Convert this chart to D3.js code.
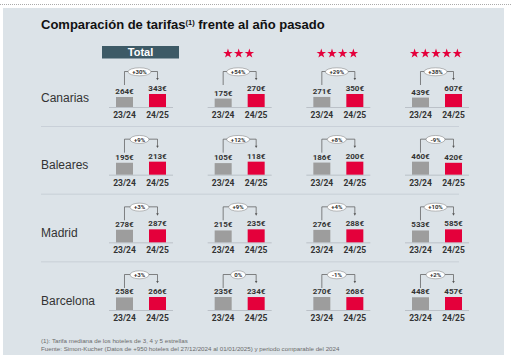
<!DOCTYPE html>
<html>
<head>
<meta charset="utf-8">
<script src="https://cdn.jsdelivr.net/npm/d3@7"></script>
<style>
  body { margin: 0; background: #fff; }
  svg { display: block; }
</style>
</head>
<body>
<div id="chart"></div>
<script>
// tarifas medianas por región y categoría
var regions = ["Canarias", "Baleares", "Madrid", "Barcelona"];
var categories = ["Total", "3", "4", "5"];
var periods = ["23/24", "24/25"];

// 23/24 values, one row per region
var prev = [
  [264, 175, 271, 439],
  [195, 105, 186, 460],
  [278, 215, 276, 533],
  [258, 235, 270, 448]
];
// 24/25 values
var curr = [
  [343, 270, 350, 607],
  [213, 118, 200, 420],
  [287, 235, 288, 585],
  [266, 234, 268, 457]
];
var changes = [
  ["+30%", "+54%", "+29%", "+38%"],
  ["+9%", "+12%", "+8%", "-9%"],
  ["+3%", "+9%", "+4%", "+10%"],
  ["+3%", "0%", "-1%", "+2%"]
];
var starCounts = [0, 3, 4, 5];

var width = 512, height = 361;
var red = "#e4003b", grey = "#9d9d9d", ink = "#333";
var numFont = "Roboto, 'Liberation Sans', sans-serif";
var txtFont = "'Liberation Sans', Arial, sans-serif";

var svg = d3.select("#chart").append("svg")
  .attr("width", width)
  .attr("height", height);

// dotted top rule and panel
svg.append("line")
  .attr("x1", 0).attr("x2", width)
  .attr("y1", 4.5).attr("y2", 4.5)
  .attr("stroke", "#aaa")
  .attr("stroke-dasharray", "1,1");

svg.append("rect")
  .attr("x", 3).attr("y", 8)
  .attr("width", 501).attr("height", 347)
  .attr("fill", "#dce3e8");

// title
var title = svg.append("text")
  .attr("x", 41).attr("y", 29)
  .attr("font-family", txtFont)
  .attr("font-size", "13px")
  .attr("font-weight", "bold")
  .attr("fill", "#111");
title.append("tspan").text("Comparación de tarifas");
title.append("tspan").attr("font-size", "7.5px").attr("dy", -4.5).text("(1)");
title.append("tspan").attr("dy", 4.5).text(" frente al año pasado");

// scales
var x = d3.scalePoint().domain(categories).range([141, 437]);
var y = d3.scalePoint().domain(regions).range([107, 310]);
var xIn = d3.scaleBand().domain(periods).range([-25, 25]).paddingInner(0.485);

// column headers
var totalX = x("Total");
svg.append("rect")
  .attr("x", totalX - 39).attr("y", 46)
  .attr("width", 77).attr("height", 12.5)
  .attr("fill", "#3d5a66");
svg.append("text")
  .attr("x", totalX - 0.5).attr("y", 56.3)
  .attr("text-anchor", "middle")
  .attr("font-family", txtFont)
  .attr("font-size", "11px")
  .attr("font-weight", "bold")
  .attr("fill", "#fff")
  .text("Total");

var star = d3.symbol(d3.symbolStar).size(28);
categories.forEach(function (c, ci) {
  var n = starCounts[ci];
  if (!n) return;
  d3.range(n).forEach(function (k) {
    svg.append("path")
      .attr("d", star)
      .attr("fill", red)
      .attr("transform", "translate(" + (x(c) - 1 + (k - (n - 1) / 2) * 10.7) + ",53.5)");
  });
});

// separators
regions.slice(0, -1).forEach(function (r) {
  svg.append("line")
    .attr("x1", 41).attr("x2", 459)
    .attr("y1", y(r) + 19.5).attr("y2", y(r) + 19.5)
    .attr("stroke", "#c4ccd3")
    .attr("stroke-width", 0.8);
});

// row labels
svg.selectAll(".rowlabel").data(regions).enter()
  .append("text")
    .attr("class", "rowlabel")
    .attr("x", 41)
    .attr("y", function (d) { return y(d) - 5.5; })
    .attr("font-family", txtFont)
    .attr("font-size", "12px")
    .attr("fill", ink)
    .text(function (d) { return d; });

// cells
regions.forEach(function (r, ri) {
  categories.forEach(function (c, ci) {
    var cx = x(c), base = y(r);
    var vals = [prev[ri][ci], curr[ri][ci]];
    var h = d3.scaleLinear().domain([0, d3.max(vals)]).range([0, 13]);
    var g = svg.append("g").attr("transform", "translate(" + cx + "," + base + ")");

    g.append("line")
      .attr("x1", -32).attr("x2", 32)
      .attr("y1", 0.5).attr("y2", 0.5)
      .attr("stroke", "#b3b9bf")
      .attr("stroke-width", 0.8);

    g.selectAll(".bar").data(vals).enter()
      .append("rect")
        .attr("class", "bar")
        .attr("x", function (d, i) { return xIn(periods[i]); })
        .attr("y", function (d) { return -h(d); })
        .attr("width", xIn.bandwidth())
        .attr("height", function (d) { return h(d); })
        .attr("fill", function (d, i) { return i ? red : grey; });

    g.selectAll(".val").data(vals).enter()
      .append("text")
        .attr("class", "val")
        .attr("x", function (d, i) { return xIn(periods[i]) + xIn.bandwidth() / 2; })
        .attr("y", function (d) { return -h(d) - 3; })
        .attr("text-anchor", "middle")
        .attr("font-family", numFont)
        .attr("font-size", "8px")
        .attr("font-weight", "bold")
        .attr("fill", ink)
        .text(function (d) { return d + "€"; });

    g.selectAll(".per").data(periods).enter()
      .append("text")
        .attr("class", "per")
        .attr("x", function (d) { return xIn(d) + xIn.bandwidth() / 2; })
        .attr("y", 11)
        .attr("text-anchor", "middle")
        .attr("font-family", numFont)
        .attr("font-size", "8.5px")
        .attr("font-weight", "bold")
        .attr("fill", ink)
        .text(function (d) { return d; });

    // bracket with arrow
    var xa = xIn(periods[0]) + xIn.bandwidth() / 2;
    var xb = xIn(periods[1]) + xIn.bandwidth() / 2;
    var top = -35.5;
    g.append("path")
      .attr("d", "M" + xa + "," + (top + 13.5) + "V" + top + "H" + xb + "V" + (top + 7))
      .attr("fill", "none")
      .attr("stroke", "#555")
      .attr("stroke-width", 0.7);
    g.append("path")
      .attr("d", "M" + (xb - 1.3) + "," + (top + 6.5) + "L" + (xb + 1.3) + "," + (top + 6.5) + "L" + xb + "," + (top + 8.8) + "Z")
      .attr("fill", "#555");

    var lbl = changes[ri][ci];
    var rx = lbl.length * 2 + 3.5;
    g.append("ellipse")
      .attr("cx", -1.5).attr("cy", top + 0.3)
      .attr("rx", rx).attr("ry", 4)
      .attr("fill", "#fff")
      .attr("stroke", "#777")
      .attr("stroke-width", 0.5);
    g.append("text")
      .attr("x", -1.5).attr("y", top + 2.4)
      .attr("text-anchor", "middle")
      .attr("font-family", numFont)
      .attr("font-size", "6px")
      .attr("font-weight", "bold")
      .attr("fill", ink)
      .text(lbl);
  });
});

// footnotes
svg.append("text")
  .attr("x", 41).attr("y", 343)
  .attr("font-family", txtFont)
  .attr("font-size", "6.2px")
  .attr("fill", "#6b6b6b")
  .text("(1): Tarifa mediana de los hoteles de 3, 4 y 5 estrellas");
svg.append("text")
  .attr("x", 41).attr("y", 350.5)
  .attr("font-family", txtFont)
  .attr("font-size", "6.2px")
  .attr("fill", "#6b6b6b")
  .text("Fuente: Simon-Kucher (Datos de +950 hoteles del 27/12/2024 al 01/01/2025) y periodo comparable del 2024");
</script>
</body>
</html>
